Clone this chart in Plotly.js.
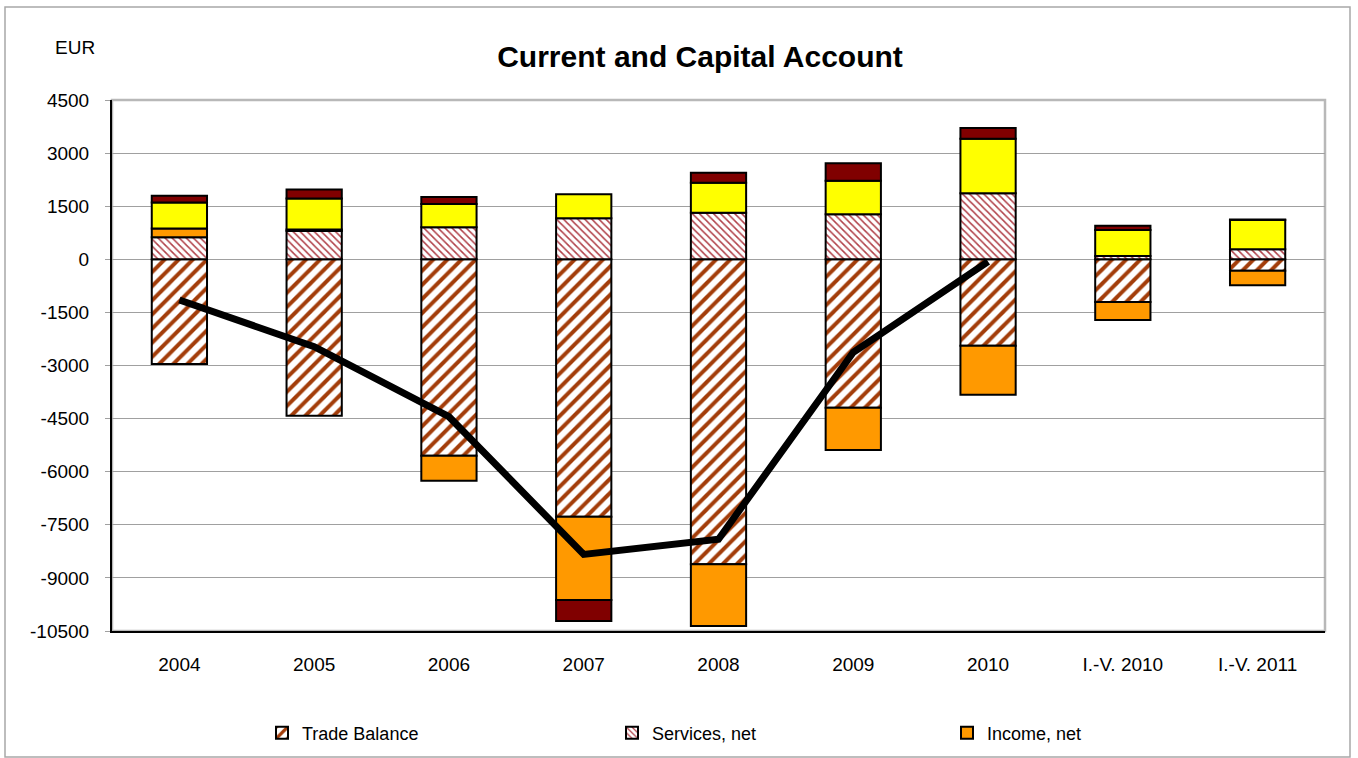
<!DOCTYPE html>
<html>
<head>
<meta charset="utf-8">
<script src="https://cdn.plot.ly/plotly-3.0.1.min.js"></script>
<style>html,body{margin:0;padding:0;background:#fff;}#chart{width:1358px;height:758px;}</style>
</head>
<body>
<div id="chart"></div>
<script>
var categories = ['2004','2005','2006','2007','2008','2009','2010','I.-V. 2010','I.-V. 2011'];
var tradeBalance = [-2958, -4418, -5548, -7271, -8616, -4192, -2440, -1206, -322];
var servicesNet  = [621, 800, 904, 1158, 1316, 1271, 1864, 93, 282];
var incomeNet    = [250, 40, -706, -2353, -1743, -1195, -1384, -509, -412];
var transfersNet = [735, 875, 658, 678, 848, 949, 1543, 735, 828];
var capitalAcc   = [187, 254, 198, -594, 282, 492, 302, 121, 15];
var lineCats     = ['2004','2005','2006','2007','2008','2009','2010'];
var lineValues   = [-1150, -2469, -4446, -8336, -7910, -2627, -68];
var yTickVals    = [4500, 3000, 1500, 0, -1500, -3000, -4500, -6000, -7500, -9000, -10500];
var yTickText    = ['4500','3000','1500','0','-1500','-3000','-4500','-6000','-7500','-9000','-10500'];

var FONT = 'Arial, "Liberation Sans", sans-serif';
var outline = {color: '#000000', width: 2};

var traces = [
  {type: 'bar', name: 'Trade Balance', x: categories, y: tradeBalance, legend: 'legend',
   marker: {color: '#ffffff', line: outline,
            pattern: {shape: '/', fgcolor: '#A33D0A', fgopacity: 1, bgcolor: '#ffffff', size: 10, solidity: 0.4, fillmode: 'replace'}}},
  {type: 'bar', name: 'Services, net', x: categories, y: servicesNet, legend: 'legend2',
   marker: {color: '#ffffff', line: outline,
            pattern: {shape: '\\', fgcolor: '#B04048', fgopacity: 1, bgcolor: '#ffffff', size: 5, solidity: 0.3, fillmode: 'replace'}}},
  {type: 'bar', name: 'Income, net', x: categories, y: incomeNet, legend: 'legend3',
   marker: {color: '#FF9900', line: outline}},
  {type: 'bar', name: 'Current transfers, net', x: categories, y: transfersNet, showlegend: false,
   marker: {color: '#FFFF00', line: outline}},
  {type: 'bar', name: 'Capital account', x: categories, y: capitalAcc, showlegend: false,
   marker: {color: '#800000', line: outline}},
  {type: 'scatter', mode: 'lines', name: 'Current and capital account', x: lineCats, y: lineValues,
   showlegend: false, line: {color: '#000000', width: 7}}
];

var L = 112, T = 100, PW = 1213, PH = 531;
function px2x(px) { return (px - L) / PW; }
function py2y(py) { return (T + PH - py) / PH; }

var layout = {
  width: 1358, height: 758,
  margin: {l: L, r: 1358 - L - PW, t: T, b: 758 - T - PH, pad: 0, autoexpand: false},
  paper_bgcolor: '#ffffff', plot_bgcolor: '#ffffff',
  barmode: 'relative', bargap: 0.59,
  font: {family: FONT, color: '#000000', size: 19},
  title: {text: 'Current and Capital Account', font: {family: FONT, size: 30, weight: 'bold', color: '#000'},
          x: 700 / 1358, xref: 'container', xanchor: 'center', y: 1 - 56 / 758, yref: 'container', yanchor: 'middle'},
  xaxis: {type: 'category', showgrid: false, showline: true, linecolor: '#000', linewidth: 2,
          ticks: '', tickfont: {size: 19}, fixedrange: true, zeroline: false, ticklabelstandoff: 15},
  yaxis: {range: [-10500, 4500], tickmode: 'array', tickvals: yTickVals, ticktext: yTickText,
          showgrid: true, gridcolor: '#A0A0A0', gridwidth: 1, zeroline: false,
          showline: true, linecolor: '#000', linewidth: 2, ticks: 'outside', ticklen: 5, tickcolor: '#A0A0A0',
          tickfont: {size: 19}, fixedrange: true, ticklabelstandoff: 12},
  legend:  {x: px2x(262), y: py2y(733), xanchor: 'left', yanchor: 'middle', orientation: 'h', font: {size: 18}, bgcolor: 'rgba(0,0,0,0)'},
  legend2: {x: px2x(612), y: py2y(733), xanchor: 'left', yanchor: 'middle', orientation: 'h', font: {size: 18}, bgcolor: 'rgba(0,0,0,0)'},
  legend3: {x: px2x(947), y: py2y(733), xanchor: 'left', yanchor: 'middle', orientation: 'h', font: {size: 18}, bgcolor: 'rgba(0,0,0,0)'},
  annotations: [
    {text: 'EUR', xref: 'paper', yref: 'paper', x: px2x(97), y: py2y(47), xanchor: 'right', yanchor: 'middle',
     showarrow: false, font: {size: 19, family: FONT}}
  ],
  shapes: [
    {type: 'rect', xref: 'paper', yref: 'paper', x0: 0, x1: 1, y0: 0, y1: 1, layer: 'below',
     line: {color: '#B8B8B8', width: 2.5}},
    {type: 'rect', xref: 'paper', yref: 'paper', x0: px2x(5), x1: px2x(1350), y0: py2y(757), y1: py2y(7), layer: 'below',
     line: {color: '#A8A8A8', width: 1.5}}
  ],
  showlegend: true
};

Plotly.newPlot('chart', traces, layout, {staticPlot: true, displayModeBar: false});
</script>
</body>
</html>
